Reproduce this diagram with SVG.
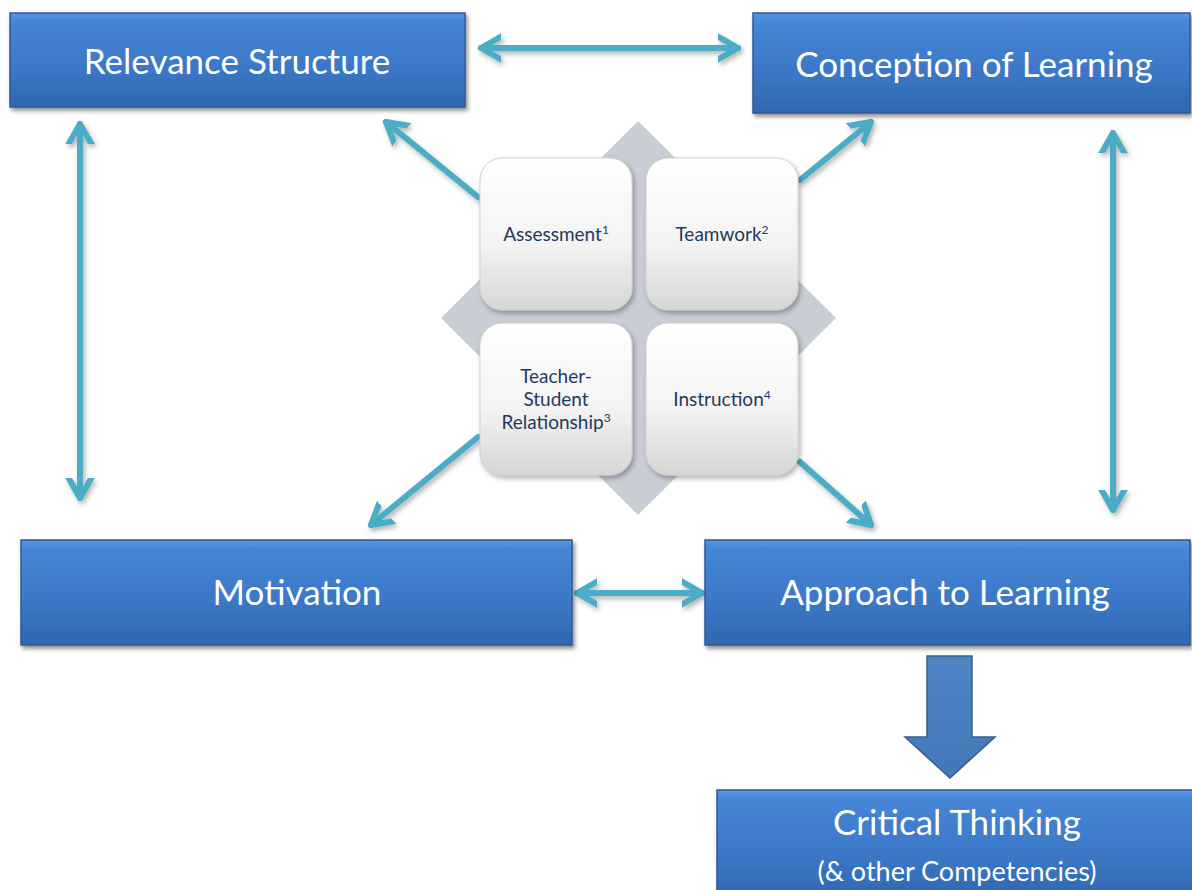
<svg xmlns="http://www.w3.org/2000/svg" width="1192" height="890" viewBox="0 0 1192 890">
<defs>
<linearGradient id="blue" x1="0" y1="0" x2="0" y2="1">
<stop offset="0" stop-color="#5a97e0"/>
<stop offset="0.08" stop-color="#4686d6"/>
<stop offset="0.6" stop-color="#3b77c6"/>
<stop offset="1" stop-color="#2f67b0"/>
</linearGradient>
<linearGradient id="tile" x1="0" y1="0" x2="0" y2="1">
<stop offset="0" stop-color="#ffffff"/>
<stop offset="0.55" stop-color="#f4f4f4"/>
<stop offset="1" stop-color="#d6d6d6"/>
</linearGradient>
<linearGradient id="blk" x1="0" y1="0" x2="0" y2="1">
<stop offset="0" stop-color="#4f86c6"/>
<stop offset="1" stop-color="#4377b8"/>
</linearGradient>
<filter id="sh" x="-10%" y="-10%" width="130%" height="140%">
<feDropShadow dx="2" dy="3" stdDeviation="2" flood-color="#000" flood-opacity="0.45"/>
</filter>
<filter id="shs" x="-20%" y="-20%" width="140%" height="140%">
<feDropShadow dx="2" dy="3" stdDeviation="2.5" flood-color="#000" flood-opacity="0.3"/>
</filter>
<filter id="shc" filterUnits="userSpaceOnUse" x="0" y="0" width="1192" height="890">
<feDropShadow dx="2" dy="3" stdDeviation="2.5" flood-color="#000" flood-opacity="0.3"/>
</filter>
<marker id="ah" markerUnits="userSpaceOnUse" markerWidth="40" markerHeight="40" viewBox="-20 -20 40 40" refX="0" refY="0" orient="auto-start-reverse">
<path d="M-21,-12 L0,0 L-21,12" fill="none" stroke="#4bacc6" stroke-width="6" stroke-linecap="round" stroke-linejoin="round"/>
</marker>
<style>
.box{fill:url(#blue);stroke:#2c5a94;stroke-width:1.5;filter:url(#sh)}
.big{font-family:Lato,"Liberation Sans",sans-serif;font-size:35px;fill:#ffffff;text-anchor:middle}
.sub{font-family:Lato,"Liberation Sans",sans-serif;font-size:27px;fill:#ffffff;text-anchor:middle}
.tile{fill:url(#tile);stroke:#cfcfcf;stroke-width:1;filter:url(#shs)}
.small{font-family:Lato,"Liberation Sans",sans-serif;font-size:19px;fill:#1f3a60;text-anchor:middle}
.con{stroke:#4bacc6;stroke-width:6;fill:none;stroke-linecap:round;marker-end:url(#ah)}
.dbl{marker-start:url(#ah)}
</style>
</defs>
<rect width="1192" height="890" fill="#ffffff"/>

<g id="center-diamond">
<polygon points="638,121 836,318 638,515 441,318" fill="#c9cdd5"/>
</g>

<g id="connectors" filter="url(#shc)">
<line class="con dbl" x1="481" y1="48" x2="738" y2="48"/>
<line class="con dbl" x1="80" y1="124" x2="80" y2="498"/>
<line class="con dbl" x1="1113" y1="133" x2="1113" y2="510"/>
<line class="con dbl" x1="577" y1="593" x2="702" y2="593"/>
<line class="con" x1="478" y1="197" x2="386" y2="122"/>
<line class="con" x1="800" y1="180" x2="871" y2="122"/>
<line class="con" x1="478" y1="437" x2="371" y2="525"/>
<line class="con" x1="800" y1="462" x2="871" y2="525"/>
</g>

<g id="relevance-structure">
<rect class="box" x="10" y="13" width="455" height="94"/>
<text class="big" x="237" y="74">Relevance Structure</text>
</g>
<g id="conception-of-learning">
<rect class="box" x="753" y="13" width="437" height="100"/>
<text class="big" x="974" y="77">Conception of Learning</text>
</g>
<g id="motivation">
<rect class="box" x="21" y="540" width="551" height="105"/>
<text class="big" x="297" y="605">Motivation</text>
</g>
<g id="approach-to-learning">
<rect class="box" x="705" y="540" width="485" height="105"/>
<text class="big" x="945" y="605">Approach to Learning</text>
</g>
<g id="critical-thinking">
<rect class="box" x="717" y="790" width="480" height="110"/>
<text class="big" x="957" y="835">Critical Thinking</text>
<text class="sub" x="957" y="881">(&amp; other Competencies)</text>
</g>

<g id="block-arrow">
<polygon points="927,656 972,656 972,737 995,737 950,778 905,737 927,737" fill="url(#blk)" stroke="#385d8a" stroke-width="1.5"/>
</g>

<g id="assessment">
<rect class="tile" x="480" y="158" width="152" height="152" rx="22"/>
<text class="small" x="556" y="241">Assessment<tspan font-size="12" dy="-7">1</tspan></text>
</g>
<g id="teamwork">
<rect class="tile" x="646" y="158" width="152" height="152" rx="22"/>
<text class="small" x="722" y="241">Teamwork<tspan font-size="12" dy="-7">2</tspan></text>
</g>
<g id="teacher-student">
<rect class="tile" x="480" y="323" width="152" height="152" rx="22"/>
<text class="small" x="556" y="383">Teacher-</text>
<text class="small" x="556" y="406">Student</text>
<text class="small" x="556" y="429">Relationship<tspan font-size="12" dy="-7">3</tspan></text>
</g>
<g id="instruction">
<rect class="tile" x="646" y="323" width="152" height="152" rx="22"/>
<text class="small" x="722" y="406">Instruction<tspan font-size="12" dy="-7">4</tspan></text>
</g>
</svg>
